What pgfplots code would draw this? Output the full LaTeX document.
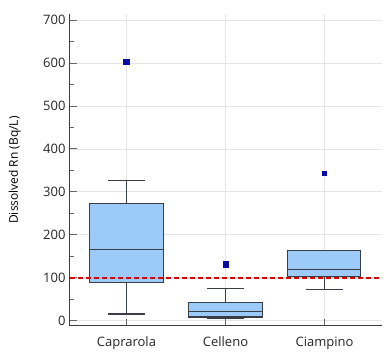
\documentclass[border=0pt]{standalone}
\usepackage{fontspec}
\setmainfont{Open Sans}
\usepackage{pgfplots}
\pgfplotsset{compat=1.18}
\definecolor{boxfill}{HTML}{9CCBFA}
\definecolor{boxedge}{HTML}{3A3F47}
\definecolor{outl}{HTML}{0A0AA8}
\pgfplotsset{
  boxl/.style={draw=boxedge, line width=1.1pt, mark=none},
  boxf/.style={draw=boxedge, fill=boxfill, line width=1.1pt, line join=miter, line cap=rect, mark=none},
}
\begin{document}
\begin{tikzpicture}
\begin{axis}[
  scale only axis,
  width=312pt, height=312pt,
  xmin=0.43, xmax=3.58,
  ymin=-13, ymax=714,
  axis x line*=bottom, axis y line*=left,
  axis line style={boxedge, line width=1pt},
  xtick={1,2,3},
  xticklabels={Caprarola,Celleno,Ciampino},
  ytick={0,100,...,700},
  minor ytick={50,150,...,650},
  tick align=inside,
  major tick length=7pt, minor tick length=4pt,
  tick style={gray!80!black, line width=0.6pt},
  grid=major,
  major grid style={gray!20, line width=0.5pt},
  ylabel={Dissolved Rn (Bq/L)},
  ylabel style={font=\fontsize{12}{14}\selectfont, at={(axis description cs:-0.177,0.5)}, anchor=center},
  ticklabel style={font=\fontsize{13}{15}\selectfont, text=black!85},
  /pgf/number format/assume math mode=true,
  xticklabel style={yshift=-7pt},
  yticklabel style={xshift=-1pt},
]
% ---- Caprarola
\addplot[boxl] coordinates {(1,15) (1,88)};
\addplot[boxl] coordinates {(1,272) (1,326)};
\addplot[boxl] coordinates {(0.815,15) (1.185,15)};
\addplot[boxl] coordinates {(0.815,326) (1.185,326)};
\addplot[boxf] coordinates {(0.625,88) (1.375,88) (1.375,272) (0.625,272) (0.625,88)};
\addplot[boxl] coordinates {(0.625,165) (1.375,165)};
\addplot[only marks, mark=square*, mark size=2.8pt, mark options={fill=outl, draw=outl}] coordinates {(1,603)};
% ---- Celleno
\addplot[boxl] coordinates {(2,5) (2,8)};
\addplot[boxl] coordinates {(2,41) (2,75)};
\addplot[boxl] coordinates {(1.815,5) (2.185,5)};
\addplot[boxl] coordinates {(1.815,75) (2.185,75)};
\addplot[boxf] coordinates {(1.625,8) (2.375,8) (2.375,41) (1.625,41) (1.625,8)};
\addplot[boxl] coordinates {(1.625,21) (2.375,21)};
\addplot[only marks, mark=square*, mark size=2.8pt, mark options={fill=outl, draw=outl}] coordinates {(2,131)};
% ---- Ciampino
\addplot[boxl] coordinates {(3,73) (3,103)};
\addplot[boxl] coordinates {(2.815,73) (3.185,73)};
\addplot[boxf] coordinates {(2.63,103) (3.36,103) (3.36,163) (2.63,163) (2.63,103)};
\addplot[boxl] coordinates {(2.63,118) (3.36,118)};
\addplot[only marks, mark=square*, mark size=2pt, mark options={fill=outl, draw=outl}] coordinates {(3,344)};
% reference line
\addplot[color=red!85!black, line width=2pt, dash pattern=on 5pt off 3pt, mark=none]
   coordinates {(0.43,100) (3.58,100)};
\end{axis}
\path (current axis.south west) ++(-70pt,-35pt) coordinate (bbA);
\path (current axis.north east) ++(9pt,14pt) coordinate (bbB);
\useasboundingbox (bbA) rectangle (bbB);
\end{tikzpicture}
\end{document}
